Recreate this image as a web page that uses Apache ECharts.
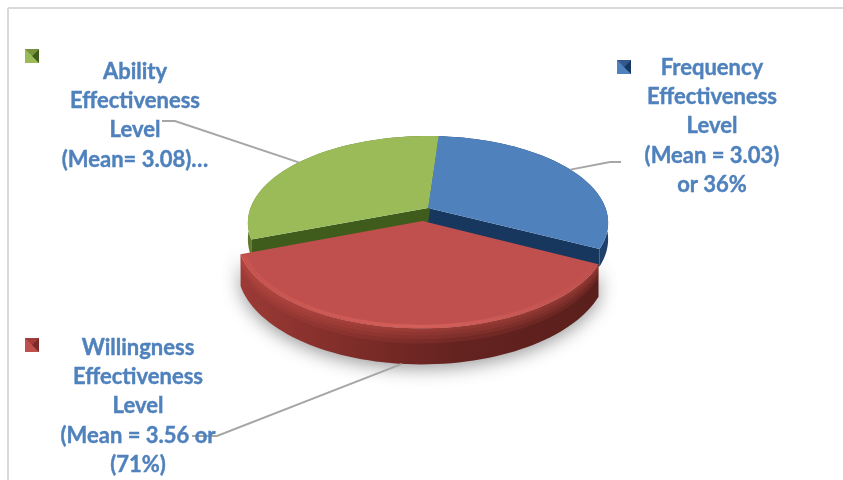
<!DOCTYPE html>
<html><head><meta charset="utf-8">
<script src="https://cdn.jsdelivr.net/npm/echarts@6/dist/echarts.min.js"></script>
<style>html,body{margin:0;padding:0;background:#fff}#c{width:843px;height:480px}</style>
</head><body><div id="c"></div>
<script>
// DATA
const categories = ['Frequency Effectiveness Level','Willingness Effectiveness Level','Ability Effectiveness Level'];
const meanValues = [3.03, 3.56, 3.08];
const labelTexts = [
  'Frequency\nEffectiveness\nLevel\n(Mean = 3.03)\nor 36%',
  'Willingness\nEffectiveness\nLevel\n(Mean = 3.56 or\n(71%)',
  'Ability\nEffectiveness\nLevel\n(Mean= 3.08)…'
];

// STYLE / LAYOUT
const faceColors = ['#4f81bd','#c0504d','#9bbb59'];
const wallColors = ['#17375e','#7a2a27','#3f5c1c'];
const rimColors  = ['#1f3f6b','#8e2f2c','#5f7a2c'];
const legendPos  = [[617,60],[25,338],[25,49]];
const labelPos   = [[712,53],[138,333],[135,57]];
const leaderTail = [[[610,162],[621,162]],[[217,436],[192,436]],[[175,121],[162,121]]];
const explode    = [[0,0],[-0.03,-0.15],[0,0]];
const view = {x:428, y:208, A:177.5, B:84.2, k:0.17, depth:29, backDepth:0.55, start:4};

function proj(theta, r, ex, ey, drop){
  const t = theta*Math.PI/180;
  const px = r*Math.sin(t)+ex, py = r*Math.cos(t)+ey;
  const w = 1+view.k*py;
  return [view.x+view.A*px/w, view.y-view.B*py/w+(drop||0)*view.depth/w];
}
function arc(a,b,r,ex,ey,drop){
  const out=[]; const n=Math.max(2,Math.ceil(Math.abs(b-a)/2));
  for(let i=0;i<=n;i++) out.push(proj(a+(b-a)*i/n,r,ex,ey,drop));
  return out;
}
const total = meanValues.reduce((s,v)=>s+v,0);

function renderItem(params, api){
  const i = params.dataIndex;
  let before = 0; for(let j=0;j<i;j++) before += meanValues[j];
  const a = view.start+before/total*360;
  const b = a+api.value(0)/total*360;
  const [ex,ey] = explode[i];
  const isFront = i===1;
  const base = isFront?20:0;
  const drop = isFront?1:view.backDepth;
  const ch = [];
  const topArc = arc(a,b,1,ex,ey,0);
  const botArc = arc(a,b,1,ex,ey,drop);
  const apex = proj(0,0,ex,ey,0), apexD = proj(0,0,ex,ey,drop);
  // outer wall
  const wallFill = isFront
    ? new echarts.graphic.LinearGradient(0,0,1,0,[{offset:0,color:'#9c3a36'},{offset:0.3,color:'#7f2d29'},{offset:0.6,color:'#652320'},{offset:1,color:'#5a1f1c'}])
    : rimColors[i];
  ch.push({type:'polygon',z2:base+1,shape:{points:topArc.concat(botArc.slice().reverse())},
    style:Object.assign({fill:wallFill},isFront?{shadowBlur:18,shadowColor:'rgba(0,0,0,0.4)',shadowOffsetY:4}:{})});
  if(isFront){
    // soft rounded shading at the top of the wall
    [0.1,0.2,0.3,0.42].forEach((f,n)=>{
      ch.push({type:'polygon',z2:base+1+n*0.1,shape:{points:topArc.concat(arc(a,b,1,ex,ey,f).reverse())},
        style:{fill:'rgba(205,85,80,0.14)'}});
    });
  }else{
    // cut walls are visible only on the slices behind the pulled-out one
    [a,b].forEach(th=>{
      const e=proj(th,1,ex,ey,0), eD=proj(th,1,ex,ey,drop);
      ch.push({type:'polygon',z2:base+2,shape:{points:[apex,e,eD,apexD]},style:{fill:wallColors[i]}});
    });
  }
  // top face
  ch.push({type:'polygon',z2:base+3,shape:{points:[apex].concat(topArc)},style:{fill:faceColors[i]}});
  // bevel highlight on the front slice, fading towards the right
  if(isFront){
    ch.push({type:'polyline',z2:base+4,shape:{points:arc(a+2,b-2,0.985,ex,ey,0)},
      style:{stroke:new echarts.graphic.LinearGradient(0,0,1,0,[{offset:0,color:'#c9524e'},{offset:0.5,color:'#d4605b'},{offset:1,color:'#c0504d'}]),lineWidth:3,fill:null,shadowBlur:2,shadowColor:'rgba(205,90,85,0.6)'}});
  }
  // leader line, anchored on the slice's outer edge
  const mid = isFront ? (a+b)/2+2 : (a+b)/2;
  const anchor = proj(mid,1,ex,ey,isFront?1:0);
  ch.push({type:'polyline',z2:60,shape:{points:[anchor].concat(leaderTail[i])},
    style:{stroke:'#a6a6a6',lineWidth:2,fill:null}});
  // legend marker
  const [lx,ly]=legendPos[i];
  ch.push({type:'rect',z2:70,shape:{x:lx,y:ly,width:14,height:14},style:{fill:faceColors[i]}});
  ch.push({type:'polygon',z2:71,shape:{points:[[lx+14,ly],[lx+14,ly+14],[lx+7,ly+7]]},style:{fill:wallColors[i]}});
  ch.push({type:'polygon',z2:71,shape:{points:[[lx,ly],[lx+14,ly],[lx+7,ly+7]]},style:{fill:rimColors[i],opacity:0.6}});
  // label
  ch.push({type:'text',z2:80,x:labelPos[i][0],y:labelPos[i][1],style:{
    text:labelTexts[i],fill:'#4f81bd',stroke:'#4f81bd',lineWidth:0.4,font:'bold 22px Lato',align:'center',verticalAlign:'top',lineHeight:29.3}});
  return {type:'group',children:ch};
}

const chart = echarts.init(document.getElementById('c'),null,{renderer:'canvas'});
chart.setOption({
  animation:false,
  backgroundColor:'#ffffff',
  graphic:[
    {type:'line',z:0,shape:{x1:8,y1:8,x2:843,y2:8},style:{stroke:'#d9d9d9',lineWidth:2}},
    {type:'line',z:0,shape:{x1:8,y1:8,x2:8,y2:480},style:{stroke:'#d9d9d9',lineWidth:2}}
  ],
  series:[{
    type:'custom',
    coordinateSystem:'none',
    renderItem:renderItem,
    encode:{value:0},
    data:meanValues.map((v,i)=>({name:categories[i],value:[v]}))
  }]
});
</script></body></html>
